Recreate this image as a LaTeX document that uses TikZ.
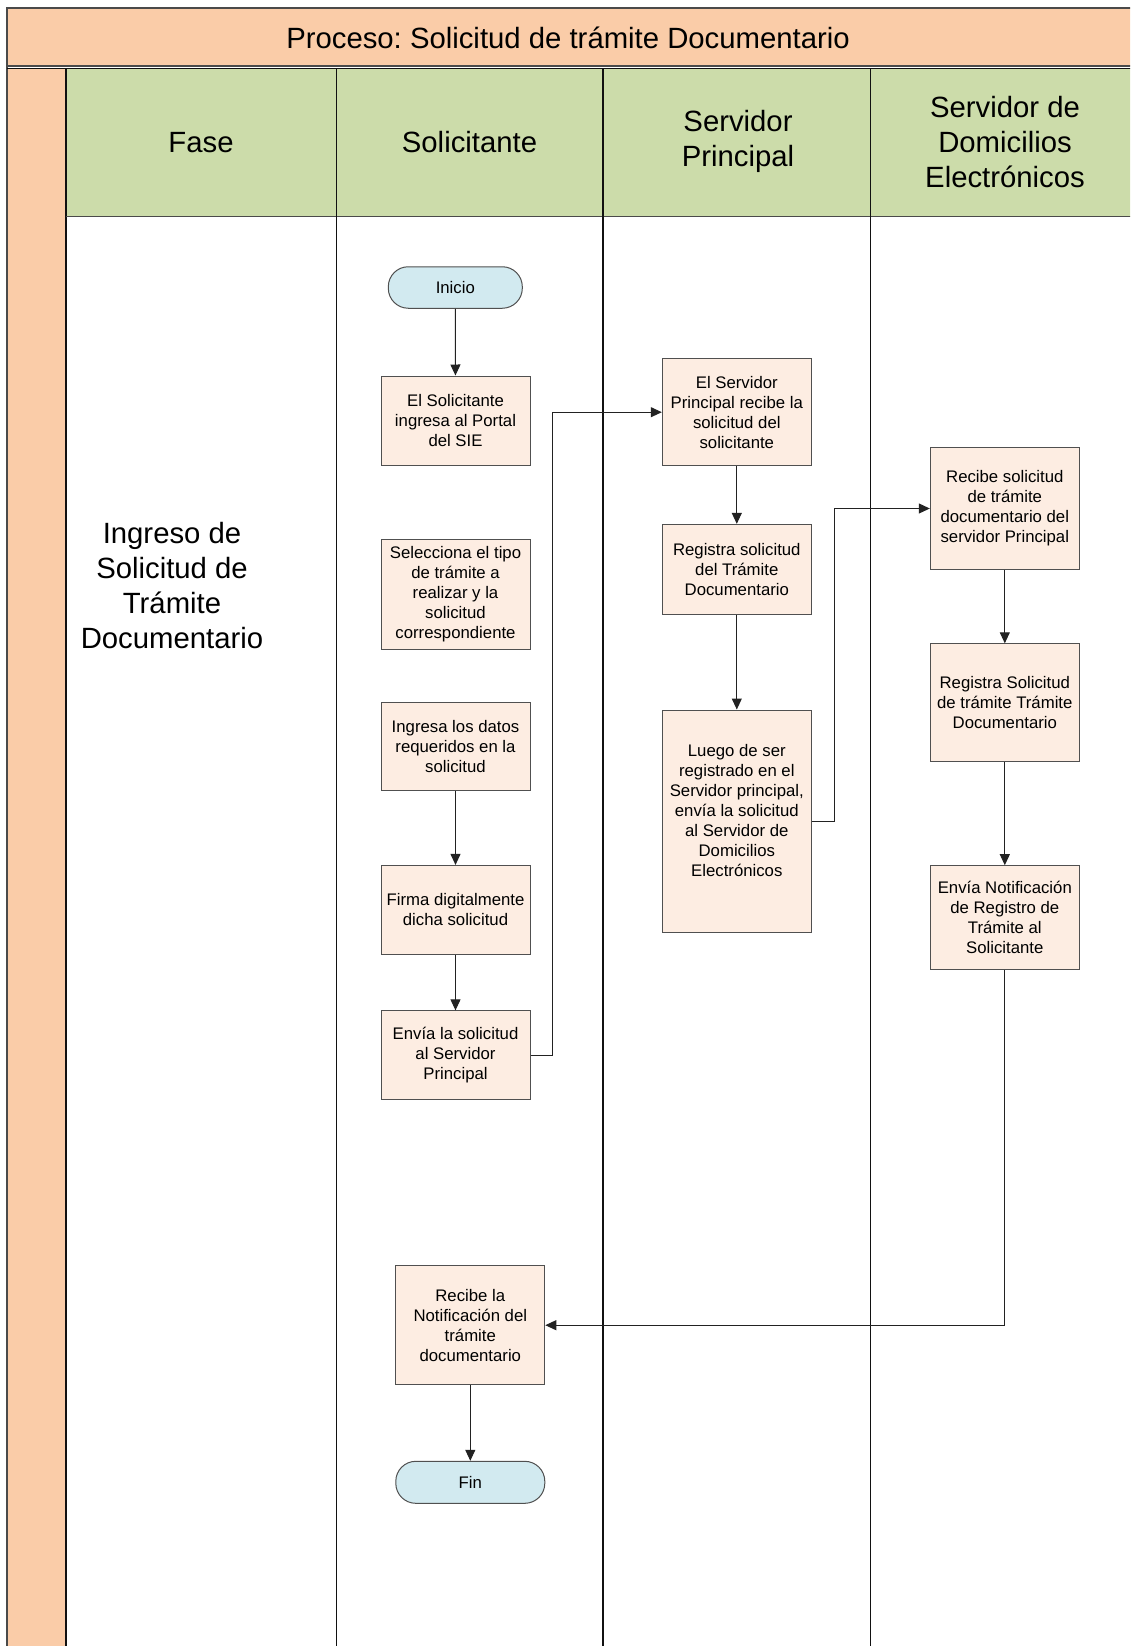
\documentclass[tikz,border=0pt]{standalone}
\usepackage{fontspec}
\setmainfont{Liberation Sans}
\usetikzlibrary{arrows.meta}
\frenchspacing

\definecolor{bandorange}{HTML}{FACCA8}
\definecolor{headgreen}{HTML}{CCDCAA}
\definecolor{boxfill}{HTML}{FDEDE2}
\definecolor{termfill}{HTML}{D2EAF0}
\definecolor{laneline}{HTML}{111111}
\definecolor{frameline}{HTML}{4A4A4A}
\definecolor{boxline}{HTML}{505050}
\definecolor{flowline}{HTML}{222222}

\newcommand\stepfont{\fontsize{16.75}{20}\selectfont}
\newcommand\lanefont{\fontsize{29.3}{35}\selectfont}

\begin{document}
\begin{tikzpicture}[x=1pt,y=-1pt,
  lane/.style={draw=laneline, line width=1.5pt},
  stepbox/.style={draw=boxline, line width=1pt, fill=boxfill,
    minimum width=149pt, inner sep=0pt, align=center, font=\stepfont},
  term/.style={draw=boxline, line width=1pt, fill=termfill,
    rounded corners=20pt, inner sep=0pt, font=\stepfont},
  lanetext/.style={align=center, font=\lanefont, inner sep=0pt},
  flow/.style={draw=flowline, line width=1pt,
    -{Triangle[length=11pt,width=10pt]}},
]
\useasboundingbox (0,0) rectangle (1130,1646);
\clip (0,0) rectangle (1130,1646);

% pool background: title band, phase strip, lane headers, body
\fill[white] (0,0) rectangle (1130,1646);
\fill[bandorange] (7.3,8.4) rectangle (1145,66);
\fill[bandorange] (7.3,68) rectangle (66.2,1650);
\fill[headgreen] (66.2,68) rectangle (1145,217.4);

% pool and lane borders
\draw[draw=frameline, line width=1.8pt] (7,1650) -- (7,8.4) -- (1145,8.4);
\draw[draw=frameline, line width=2pt] (7,66.3) -- (1145,66.3);
\draw[lane, line width=1.2pt] (7,68.3) -- (1145,68.3);
\draw[lane] (66.2,68.4) -- (66.2,1650);
\draw[draw=frameline, line width=1.6pt] (66.2,216.6) -- (1145,216.6);
\draw[lane] (336.5,68.4) -- (336.5,1650);
\draw[lane, line width=1.8pt] (602.8,68.4) -- (602.8,1650);
\draw[lane, line width=1.8pt] (870.5,68.4) -- (870.5,1650);

% titles
\node[lanetext] (title) at (568,37.5) {Proceso: Solicitud de trámite Documentario};
\node[lanetext] (hfase) at (201,142.5) {Fase};
\node[lanetext] (hsol) at (469.5,142.5) {Solicitante};
\node[lanetext] (hsp) at (738,141.5) {Servidor\\Principal};
\node[lanetext] (hsd) at (1005,142.5) {Servidor de\\Domicilios\\Electrónicos};
\node[lanetext] (phase) at (172,585.5) {Ingreso de\\Solicitud de\\Trámite\\Documentario};

% Solicitante lane
\node[term, minimum width=134pt, minimum height=41.5pt] (inicio) at (455.3,287.5) {Inicio};
\node[stepbox, minimum height=89pt] (b1) at (455.5,420.5) {El Solicitante\\ingresa al Portal\\del SIE};
\node[stepbox, minimum height=110pt] (b2) at (455.5,594) {Selecciona el tipo\\de trámite a\\realizar y la\\solicitud\\correspondiente};
\node[stepbox, minimum height=88.2pt] (b3) at (455.5,746.7) {Ingresa los datos\\requeridos en la\\solicitud};
\node[stepbox, minimum height=89.2pt] (b4) at (455.5,910) {Firma digitalmente\\dicha solicitud};
\node[stepbox, minimum height=88.3pt] (b5) at (455.5,1055) {Envía la solicitud\\al Servidor\\Principal};
\node[stepbox, minimum height=119pt] (b6) at (470.3,1325.2) {Recibe la\\Notificación del\\trámite\\documentario};
\node[term, minimum width=149pt, minimum height=42pt] (fin) at (470.3,1482.3) {Fin};

% Servidor Principal lane
\node[stepbox, minimum height=107pt] (s1) at (736.8,412.2) {El Servidor\\Principal recibe la\\solicitud del\\solicitante};
\node[stepbox, minimum height=89.7pt] (s2) at (736.8,569.2) {Registra solicitud\\del Trámite\\Documentario};
\node[stepbox, minimum height=222.6pt,
  label={[align=center, font=\stepfont, inner sep=0pt, yshift=11pt]center:{Luego de ser\\registrado en el\\Servidor principal,\\envía la solicitud\\al Servidor de\\Domicilios\\Electrónicos}}] (s3) at (736.8,821.3) {};

% Servidor de Domicilios Electronicos lane
\node[stepbox, minimum height=121.6pt] (d1) at (1004.8,508.5) {Recibe solicitud\\de trámite\\documentario del\\servidor Principal};
\node[stepbox, minimum height=117.6pt] (d2) at (1004.8,702.6) {Registra Solicitud\\de trámite Trámite\\Documentario};
\node[stepbox, minimum height=103.6pt] (d3) at (1004.8,917.5) {Envía Notificación\\de Registro de\\Trámite al\\Solicitante};

% connectors
\draw[flow] (inicio) -- (b1);
\draw[flow] (b3) -- (b4);
\draw[flow] (b4) -- (b5);
\draw[flow] (b5.east) -- ++(22,0) |- (s1.west);
\draw[flow] (s1) -- (s2);
\draw[flow] (s2) -- (s3);
\draw[flow] (s3.east) -- ++(22.4,0) |- (d1.west);
\draw[flow] (d1) -- (d2);
\draw[flow] (d2) -- (d3);
\draw[flow] (d3.south) |- (b6.east);
\draw[flow] (b6) -- (fin);
\end{tikzpicture}
\end{document}
